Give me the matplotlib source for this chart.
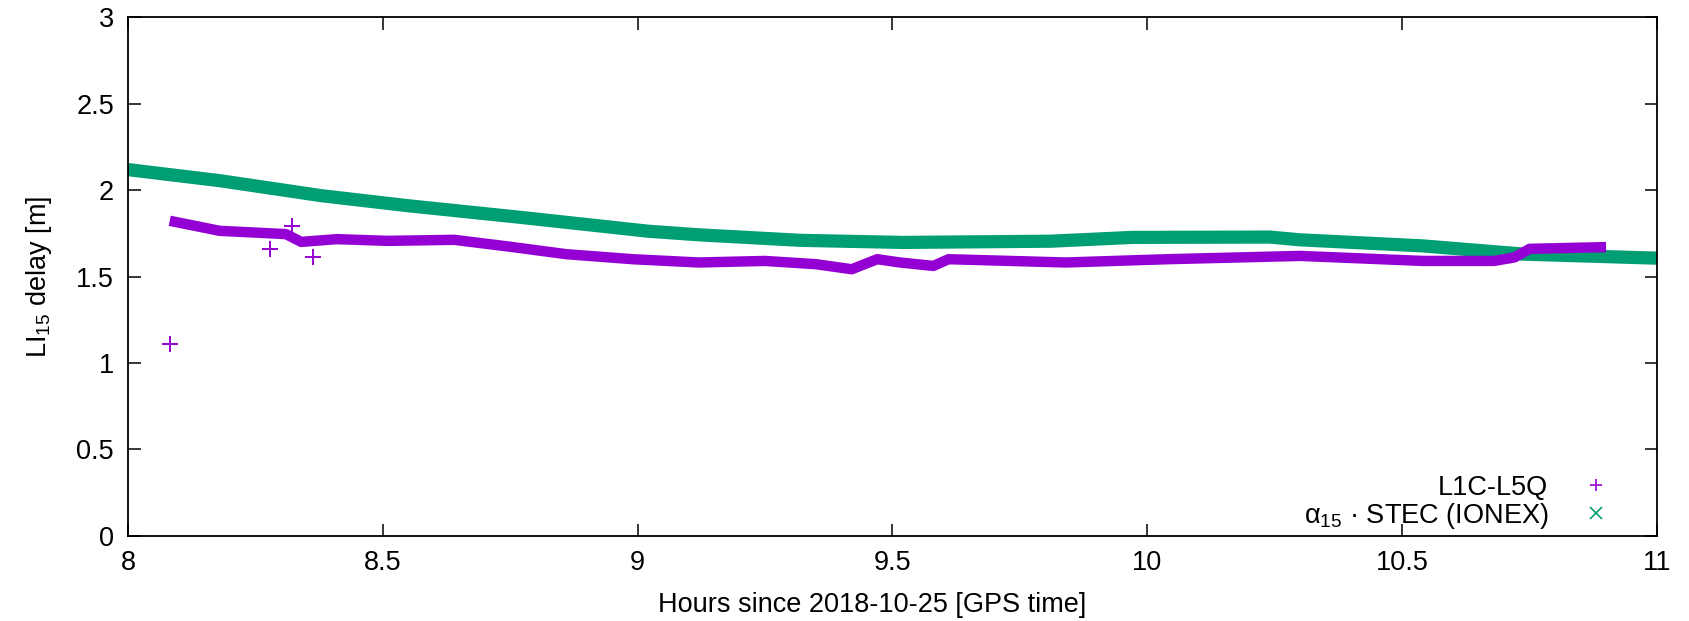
import matplotlib
matplotlib.use("Agg")
import matplotlib.pyplot as plt
from matplotlib.lines import Line2D

# values
purple_hours = [8.082, 8.18, 8.31, 8.34, 8.41, 8.51, 8.64, 8.75, 8.86, 8.99,
                9.12, 9.25, 9.35, 9.42, 9.47, 9.515, 9.58, 9.61, 9.84, 10.04,
                10.30, 10.54, 10.68, 10.72, 10.75, 10.90]
purple_delay = [1.822, 1.764, 1.745, 1.700, 1.716, 1.706, 1.712, 1.672, 1.629, 1.600,
                1.581, 1.590, 1.571, 1.542, 1.600, 1.581, 1.561, 1.600, 1.581, 1.600,
                1.619, 1.590, 1.590, 1.610, 1.660, 1.670]
outlier_hours = [8.082, 8.279, 8.321, 8.363]
outlier_delay = [1.11, 1.658, 1.793, 1.61]

green_hours = [8.00, 8.18, 8.38, 8.55, 8.77, 9.02, 9.12, 9.32, 9.52, 9.81,
               9.97, 10.24, 10.30, 10.54, 10.74, 11.00]
green_delay = [2.118, 2.054, 1.967, 1.909, 1.842, 1.762, 1.741, 1.709, 1.697, 1.704,
               1.726, 1.728, 1.712, 1.677, 1.629, 1.606]

x_ticks = [8, 8.5, 9, 9.5, 10, 10.5, 11]
x_labels = ["8", "8.5", "9", "9.5", "10", "10.5", "11"]
y_ticks = [0, 0.5, 1, 1.5, 2, 2.5, 3]
y_labels = ["0", "0.5", "1", "1.5", "2", "2.5", "3"]

PURPLE = "#9400d3"
GREEN = "#009e73"
FS = 19.5

plt.rcParams['font.family'] = ['Liberation Sans', 'DejaVu Sans']
plt.rcParams['mathtext.fontset'] = 'custom'
plt.rcParams['mathtext.rm'] = 'Liberation Sans'
plt.rcParams['mathtext.it'] = 'Liberation Sans'

fig = plt.figure(figsize=(16.9, 6.21), dpi=100)
ax = fig.add_axes([0.0757, 0.1369, 0.9048, 0.8357])

ax.plot(green_hours, green_delay, color=GREEN, lw=9.5, solid_capstyle='butt')
ax.plot(purple_hours, purple_delay, color=PURPLE, lw=7.5, solid_capstyle='butt')
ax.plot(outlier_hours, outlier_delay, '+', color=PURPLE, ms=11, mew=1.4)

ax.set_xlim(8, 11)
ax.set_ylim(0, 3)
ax.set_xticks(x_ticks)
ax.set_xticklabels(x_labels)
ax.set_yticks(y_ticks)
ax.set_yticklabels(y_labels)
ax.tick_params(direction='in', length=9, width=1.1, top=True, right=True,
               labelsize=FS, pad=10)
for s in ax.spines.values():
    s.set_linewidth(1.3)

ax.set_xlabel("Hours since 2018-10-25 [GPS time]", fontsize=FS)
ax.xaxis.set_label_coords(0.487, -0.108)
ax.set_ylabel("LI$_{15}$ delay [m]", fontsize=FS, labelpad=16)

handles = [Line2D([], [], ls='none', marker='+', color=PURPLE, ms=9, mew=1.2),
           Line2D([], [], ls='none', marker='x', color=GREEN, ms=8, mew=1.2)]
labels = ["L1C-L5Q", "α$_{15}$ · STEC (IONEX)"]
ax.legend(handles, labels, loc='lower right', bbox_to_anchor=(0.99, -0.026),
          frameon=False, markerfirst=False, fontsize=FS, handletextpad=0.75,
          labelspacing=0.0, borderaxespad=0.3)

fig.savefig("out.png", dpi=100)
